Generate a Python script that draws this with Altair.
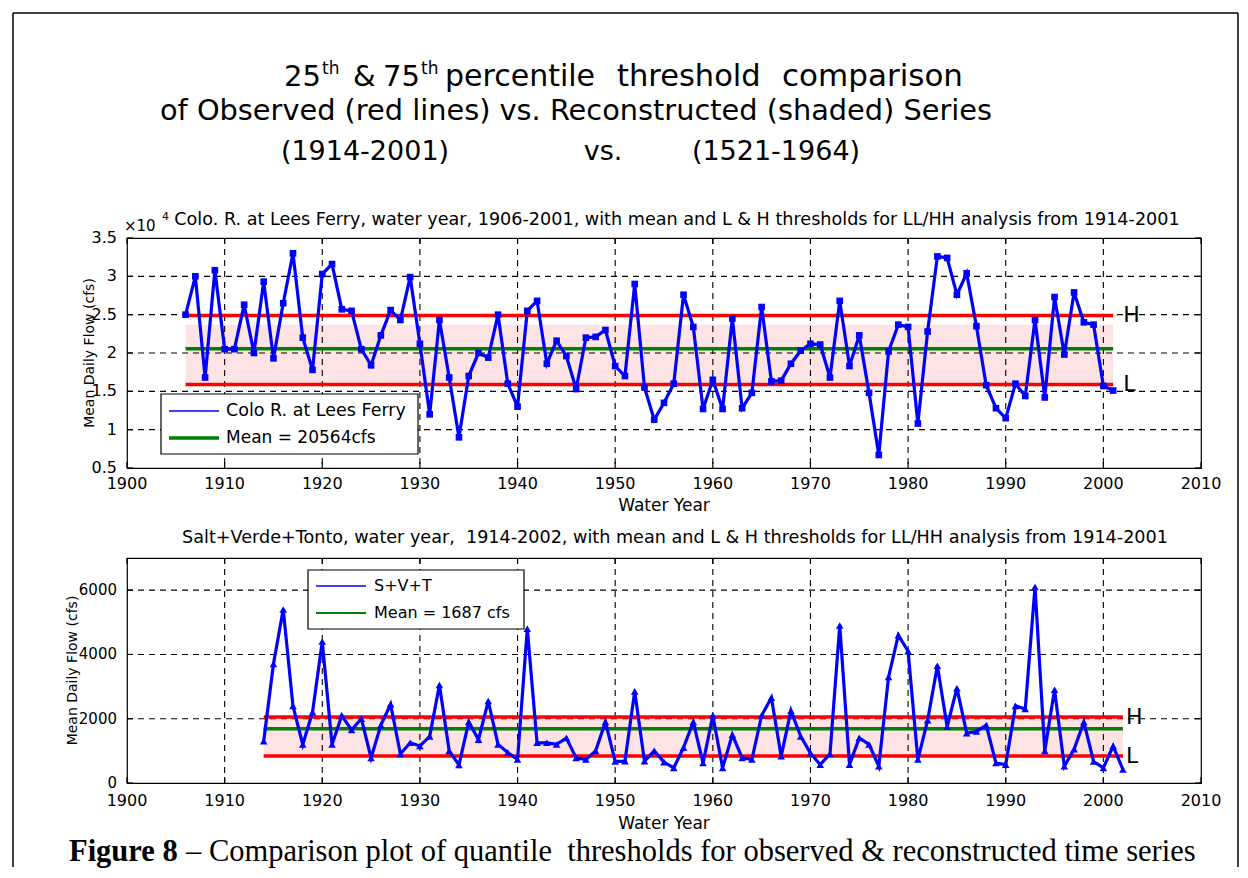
import altair as alt
import pandas as pd

FONT = "DejaVu Sans"
SERIF = "Liberation Serif"
BLUE = "#0000ff"
RED = "#ff0000"
GREEN = "#008000"
PINK = "#fde3e3"

# ---------------- data ----------------
# Colorado River at Lees Ferry, mean daily flow (x 10^4 cfs), water years 1906-2001
lees_years = list(range(1906, 2002))
lees_flow = [2.50, 3.00, 1.68, 3.08, 2.05, 2.05, 2.63, 2.00, 2.93, 1.93,
             2.65, 3.30, 2.20, 1.78, 3.03, 3.16, 2.57, 2.55, 2.05, 1.84,
             2.23, 2.56, 2.43, 2.99, 2.12, 1.20, 2.43, 1.68, 0.90, 1.70,
             2.00, 1.94, 2.50, 1.60, 1.30, 2.55, 2.68, 1.86, 2.16, 1.96,
             1.53, 2.20, 2.21, 2.30, 1.83, 1.70, 2.90, 1.55, 1.13, 1.35,
             1.60, 2.76, 2.34, 1.27, 1.65, 1.27, 2.45, 1.28, 1.48, 2.60,
             1.63, 1.64, 1.86, 2.03, 2.12, 2.11, 1.68, 2.68, 1.83, 2.23,
             1.48, 0.67, 2.02, 2.37, 2.34, 1.08, 2.28, 3.26, 3.24, 2.76,
             3.04, 2.35, 1.58, 1.28, 1.15, 1.60, 1.44, 2.43, 1.42, 2.73,
             1.98, 2.79, 2.40, 2.37, 1.57, 1.51]
lees_mean = 2.0564
lees_low, lees_high = 1.59, 2.49
lees_recon = [1.60, 2.37]          # reconstructed 25th / 75th percentiles
lees_span = [1906, 2001]

# Salt + Verde + Tonto, mean daily flow (cfs), water years 1914-2002
svt_years = list(range(1914, 2003))
svt_flow = [1300, 3700, 5400, 2400, 1200, 2200, 4400, 1200, 2100, 1650,
            2000, 780, 1800, 2450, 900, 1250, 1150, 1450, 3050, 1000,
            560, 1900, 1350, 2550, 1200, 950, 730, 4800, 1250, 1250,
            1200, 1400, 780, 730, 1000, 1900, 670, 680, 2850, 680,
            1000, 650, 470, 1100, 1900, 620, 2100, 470, 1500, 780,
            730, 2100, 2650, 830, 2250, 1450, 930, 570, 900, 4900,
            570, 1400, 1200, 520, 3300, 4600, 4100, 730, 1950, 3650,
            1750, 2950, 1550, 1600, 1800, 620, 570, 2400, 2300, 6100,
            1000, 2900, 520, 1050, 1900, 670, 470, 1150, 420]
svt_mean = 1687
svt_low, svt_high = 840, 2050
svt_recon = [840, 1980]
svt_span = [1914, 2002]

year_ticks = list(range(1900, 2011, 10))
year_labels = [str(y) for y in year_ticks]
lees_ticks = [0.5, 1, 1.5, 2, 2.5, 3, 3.5]
lees_labels = ["0.5", "1", "1.5", "2", "2.5", "3", "3.5"]
svt_ticks = [0, 2000, 4000, 6000]
svt_labels = ["0", "2000", "4000", "6000"]

W = 1074
H_TOP = 230
H_BOT = 225
NB = "\u00a0"


def label(text, x, y, size, align="left", baseline="alphabetic", font=FONT,
          weight="normal", angle=0):
    return alt.Chart(alt.Data(values=[{}])).mark_text(
        align=align, baseline=baseline, font=font, fontSize=size,
        fontWeight=weight, color="black", angle=angle
    ).encode(x=alt.value(x), y=alt.value(y), text=alt.value(text))


def hrule(x1, x2, y, color="black", width=1.2):
    return alt.Chart(alt.Data(values=[{}])).mark_rule(
        color=color, strokeWidth=width
    ).encode(x=alt.value(x1), x2=alt.value(x2), y=alt.value(y))


def vrule(x, y1, y2, color="black", width=1.2):
    return alt.Chart(alt.Data(values=[{}])).mark_rule(
        color=color, strokeWidth=width
    ).encode(x=alt.value(x), y=alt.value(y1), y2=alt.value(y2))


def box(x1, x2, y1, y2):
    return alt.Chart(alt.Data(values=[{}])).mark_rect(
        fill="white", stroke="black", strokeWidth=1.2
    ).encode(x=alt.value(x1), x2=alt.value(x2), y=alt.value(y1), y2=alt.value(y2))


def panel(years, flows, mean, low, high, recon, span, yticks, ylabels, ydomain,
          height, shape, msize, xlab_y, xtitle_y, ylab_size, ytitle_x, hl_dx, extras):
    xs = alt.Scale(domain=[1900, 2010], nice=False, zero=False)
    ys = alt.Scale(domain=ydomain, nice=False, zero=False)
    X = lambda f: alt.X(f, scale=xs, axis=None)
    Y = lambda f: alt.Y(f, scale=ys, axis=None)

    shade = alt.Chart(pd.DataFrame({"start": [span[0]], "end": [span[1]],
                                    "lo": [recon[0]], "hi": [recon[1]]})
                      ).mark_rect(color=PINK, opacity=1).encode(
        x=X("start:Q"), x2="end:Q", y=Y("lo:Q"), y2="hi:Q")

    grid_x = [t for t in year_ticks if year_ticks[0] < t < year_ticks[-1]]
    grid_y = [t for t in yticks if ydomain[0] < t < ydomain[1]]
    dash = dict(color="black", strokeWidth=1.1, strokeDash=[6, 5])
    vgrid = alt.Chart(pd.DataFrame({"t": grid_x})).mark_rule(**dash).encode(
        x=X("t:Q"), y=alt.value(0), y2=alt.value(height))
    hgrid = alt.Chart(pd.DataFrame({"t": grid_y})).mark_rule(**dash).encode(
        y=Y("t:Q"), x=alt.value(0), x2=alt.value(W))

    tick = dict(color="black", strokeWidth=1.2)
    xt = pd.DataFrame({"t": year_ticks, "lab": year_labels})
    yt = pd.DataFrame({"t": yticks, "lab": ylabels})
    ticks = [
        alt.Chart(xt).mark_rule(**tick).encode(x=X("t:Q"), y=alt.value(height), y2=alt.value(height - 6)),
        alt.Chart(xt).mark_rule(**tick).encode(x=X("t:Q"), y=alt.value(0), y2=alt.value(6)),
        alt.Chart(yt).mark_rule(**tick).encode(y=Y("t:Q"), x=alt.value(0), x2=alt.value(6)),
        alt.Chart(yt).mark_rule(**tick).encode(y=Y("t:Q"), x=alt.value(W - 6), x2=alt.value(W)),
    ]
    tick_labels = [
        alt.Chart(xt).mark_text(font=FONT, fontSize=16, color="black", align="center",
                                baseline="middle").encode(
            x=X("t:Q"), y=alt.value(xlab_y), text="lab:N"),
        alt.Chart(yt).mark_text(font=FONT, fontSize=ylab_size, color="black", align="right",
                                baseline="middle").encode(
            y=Y("t:Q"), x=alt.value(-10), text="lab:N"),
        label("Water Year", W / 2, xtitle_y, 17, align="center", baseline="middle"),
        label("Mean Daily Flow (cfs)", ytitle_x, height / 2, 14, align="center",
              baseline="middle", angle=270),
    ]

    thr = pd.DataFrame({"start": [span[0]] * 3, "end": [span[1]] * 3,
                        "value": [high, low, mean], "color": [RED, RED, GREEN]})
    rules = alt.Chart(thr).mark_rule(strokeWidth=3.5).encode(
        x=X("start:Q"), x2="end:Q", y=Y("value:Q"),
        color=alt.Color("color:N", scale=None))

    series = pd.DataFrame({"year": years, "flow": flows})
    line = alt.Chart(series).mark_line(color=BLUE, strokeWidth=3.2).encode(
        x=X("year:Q"), y=Y("flow:Q"))
    pts = alt.Chart(series).mark_point(shape=shape, filled=True, size=msize,
                                       color=BLUE, opacity=1).encode(
        x=X("year:Q"), y=Y("flow:Q"))

    hl = pd.DataFrame({"end": [span[1]] * 2, "value": [high, low], "lab": ["H", "L"]})
    hl_text = alt.Chart(hl).mark_text(align="left", baseline="middle", dx=hl_dx,
                                      font=FONT, fontSize=22, color="black").encode(
        x=X("end:Q"), y=Y("value:Q"), text="lab:N")

    layers = ([shade, vgrid, hgrid] + ticks + [rules, line, pts, hl_text]
              + tick_labels + extras)
    return alt.layer(*layers).properties(width=W, height=height)


# ---------------- upper panel annotations (origin = upper plot corner) ----------------
T1 = -152   # baseline of first title line
top_extras = [
    # figure title
    label("25", 157, T1, 29),
    label("th", 195, T1 - 12, 17),
    label("&", 226, T1, 29),
    label("75", 256, T1, 29),
    label("th", 294, T1 - 12, 17),
    label("percentile", 318, T1, 30),
    label("threshold", 490, T1, 30.5),
    label("comparison", 655, T1, 31),
    label("of Observed (red lines) vs. Reconstructed (shaded) Series", 449, -118, 28.8,
          align="center"),
    label("(1914-2001)", 238, -78, 27, align="center"),
    label("vs.", 476, -78, 27, align="center"),
    label("(1521-1964)", 649, -78, 27, align="center"),
    # exponent of the y axis
    label("\u00d710", -3, -7, 15),
    label("4", 35, -18, 11),
    # panel title
    label("Colo. R. at Lees Ferry, water year, 1906-2001, with mean and L & H "
          "thresholds for LL/HH analysis from 1914-2001", 550, -13.5, 17.6, align="center"),
    # legend
    box(34, 291, 156, 216),
    hrule(42, 92, 173, BLUE, 1.5),
    hrule(42, 92, 200, GREEN, 3.5),
    label("Colo R. at Lees Ferry", 99, 173, 17.5, baseline="middle"),
    label("Mean = 20564cfs", 99, 200, 17, baseline="middle"),
    # caption
    label("Figure 8", -58, 623, 30.5, font=SERIF, weight="bold"),
    label("\u2013 Comparison plot of quantile " + NB + "thresholds for observed & "
          "reconstructed time series", 59, 623, 30.5, font=SERIF),
    # outer frame
    hrule(-114, 1111, -225, "black", 1.5),
    vrule(-114, -225, 629, "black", 1.5),
    vrule(1111, -225, 629, "black", 1.5),
]

bottom_extras = [
    label("Salt+Verde+Tonto, water year, " + NB + "1914-2002, with mean and L & H "
          "thresholds for LL/HH analysis from 1914-2001", 548, -15, 17.6, align="center"),
    box(181, 397, 12, 71),
    hrule(189, 239, 28, BLUE, 1.5),
    hrule(189, 239, 55, GREEN, 2),
    label("S+V+T", 247, 28, 16, baseline="middle"),
    label("Mean = 1687 cfs", 247, 55, 16, baseline="middle"),
]

top = panel(lees_years, lees_flow, lees_mean, lees_low, lees_high, lees_recon,
            lees_span, lees_ticks, lees_labels, [0.5, 3.5], H_TOP, "square", 44,
            H_TOP + 16, H_TOP + 38, 16, -37, 10, top_extras)
bottom = panel(svt_years, svt_flow, svt_mean, svt_low, svt_high, svt_recon,
               svt_span, svt_ticks, svt_labels, [0, 7000], H_BOT, "triangle-up", 58,
               H_BOT + 18, H_BOT + 41, 15, -54, 3, bottom_extras)

chart = alt.vconcat(top, bottom, spacing=90, bounds="flush").properties(
    padding={"left": 11, "top": 11, "right": 5, "bottom": 0}
).configure(background="white").configure_view(stroke="black", strokeWidth=1.2)

chart.save("out.html", embed_options={"renderer": "svg", "actions": False})
